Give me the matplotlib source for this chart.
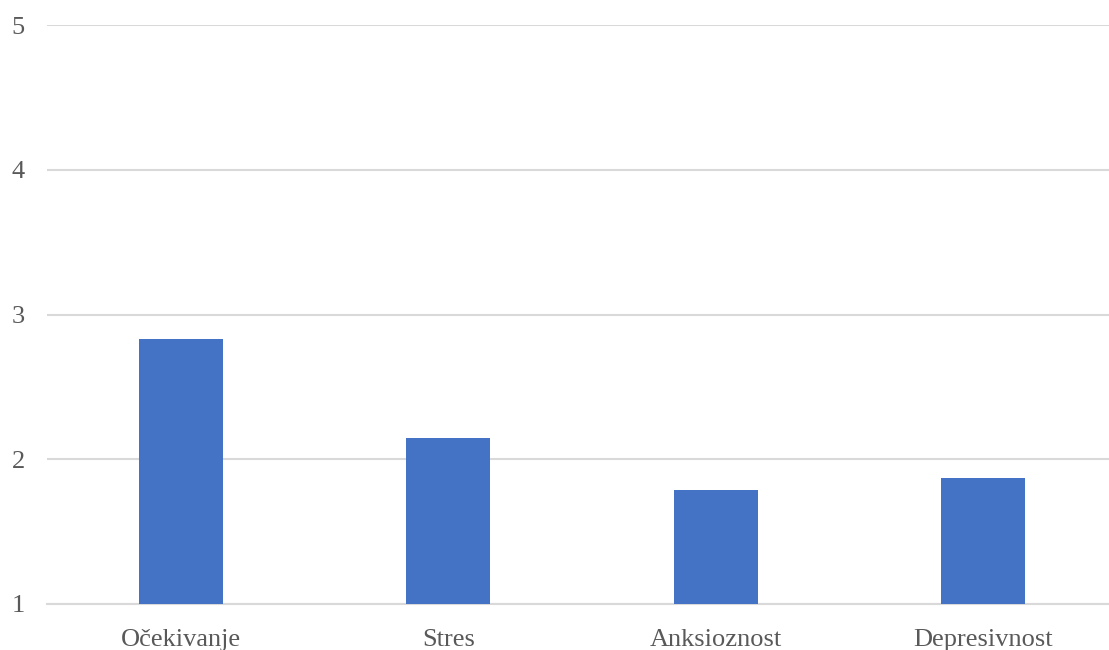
import matplotlib
matplotlib.use('Agg')
import matplotlib.pyplot as plt

plt.rcParams['font.family'] = ['Liberation Serif', 'DejaVu Serif']

categories = ['Očekivanje', 'Stres', 'Anksioznost', 'Depresivnost']
values = [2.83, 2.15, 1.79, 1.87]
yticks = [1, 2, 3, 4, 5]

fig = plt.figure(figsize=(11.09, 6.5), dpi=100)
ax = fig.add_axes([47 / 1109, 46 / 650, 1070 / 1109, 579 / 650])

x = range(len(categories))
ax.bar(x, [v - 1 for v in values], bottom=1, width=0.314, color='#4472C4', zorder=3)

ax.set_ylim(1, 5)
ax.set_xlim(-0.5, 3.5)
ax.set_yticks(yticks)
ax.set_xticks(list(x))
ax.set_xticklabels(categories)
ax.grid(axis='y', color='#D9D9D9', linewidth=1.5, zorder=0)
for s in ['top', 'right', 'left']:
    ax.spines[s].set_visible(False)
ax.spines['bottom'].set_color('#D9D9D9')
ax.spines['bottom'].set_linewidth(1.5)
ax.tick_params(axis='both', length=0, labelsize=19, colors='#595959')
ax.tick_params(axis='y', pad=16)
ax.tick_params(axis='x', pad=18)

fig.savefig('out.png', dpi=100)
